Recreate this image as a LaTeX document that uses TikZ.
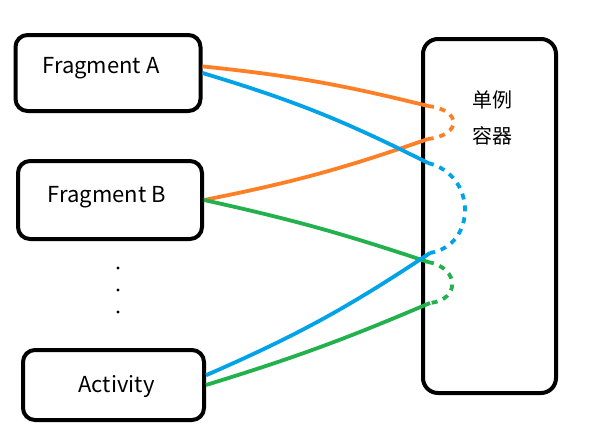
\documentclass[tikz,border=0pt]{standalone}
\usepackage{fontspec}
\setmainfont{Noto Sans CJK SC}
\usepackage{tikz}
\usepackage{xcolor}
\usetikzlibrary{arrows, calc, positioning}
\definecolor{paintorange}{RGB}{255,127,39}
\definecolor{paintblue}{RGB}{0,162,232}
\definecolor{paintgreen}{RGB}{34,177,76}

\begin{document}
\begin{tikzpicture}[x=1pt, y=-1pt,
                        box/.style={draw, line width=4pt, rounded corners=12pt, inner sep=0pt},
                        boxtext/.style={font=\fontsize{22}{26}\selectfont},
                        wire/.style={line width=3.8pt},
                        dloop/.style={line width=3.8pt, dash pattern=on 6pt off 6pt}]
                        \useasboundingbox (0,0) rectangle (603,439);
                        \node[box, minimum width=185pt, minimum height=76pt, label={[boxtext, xshift=-7pt, yshift=5pt]center:Fragment A}] (fa) at (108,73) {};
                        \node[box, minimum width=184pt, minimum height=78pt, label={[boxtext, xshift=-3pt, yshift=3pt]center:Fragment B}] (fb) at (110,200) {};
                        \node[box, minimum width=181pt, minimum height=70pt, label={[boxtext, xshift=3pt, yshift=-2pt]center:Activity}] (act) at (113.5,385) {};
                        \node[box, rounded corners=15pt, minimum width=133pt, minimum height=354pt] (holder) at (489.5,216) {};
                        \node[align=center, font=\fontsize{20}{36}\selectfont] (name) at (492,118) {单例\\容器};
                        \foreach \y in {268, 290, 312}
                            \fill (118,\y) circle (1.7);
                        % where the wires cross the container
                        \coordinate (o1) at (428,106);
                        \coordinate (o2) at (428,139);
                        \coordinate (b1) at (428,163);
                        \coordinate (b2) at (430,253);
                        \coordinate (g1) at (428,262);
                        \coordinate (g2) at (430,303);
                        \draw[wire, paintorange] (fa.4) to[bend left=4] (o1);
                        \draw[dloop, paintorange] (o1) .. controls (462,110) and (462,135) .. (o2);
                        \draw[wire, paintorange] (o2) to[bend left=4] (fb.east);
                        \draw[wire, paintgreen] (fb.east) to[bend left=3] (g1);
                        \draw[dloop, paintgreen] (g1) .. controls (460,268) and (460,300) .. (g2);
                        \draw[wire, paintgreen] (g2) to[bend left=3] (act.east);
                        \draw[wire, paintblue] (fa.east) to[bend left=5] (b1);
                        \draw[dloop, paintblue] (b1) .. controls (477,175) and (477,245) .. (b2);
                        \draw[wire, paintblue] (b2) to[bend left=5] (act.6);
                    \end{tikzpicture}
\end{document}
